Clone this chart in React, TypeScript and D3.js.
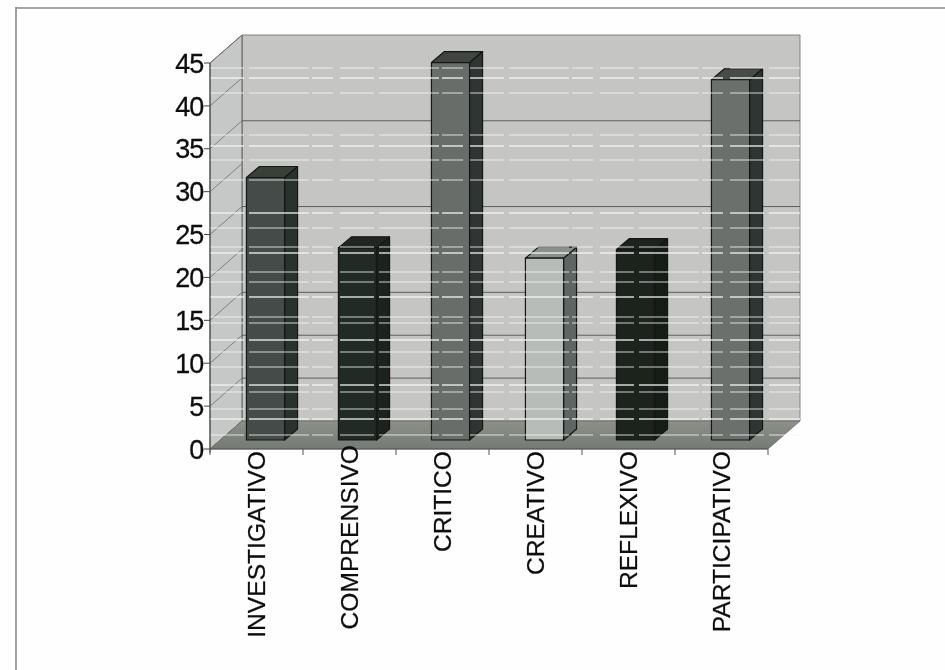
import React from "react";
import * as d3 from "d3";

const categories = ["INVESTIGATIVO", "COMPRENSIVO", "CRITICO", "CREATIVO", "REFLEXIVO", "PARTICIPATIVO"];
const values = [30.6, 22.4, 44, 21.2, 22.2, 42];
const frontColors = ["#454c48", "#232925", "#686d6a", "#b8bcb8", "#1b201c", "#6c706c"];
const sideColors = ["#2a332d", "#1c211d", "#2e3531", "#5d6662", "#181c19", "#2e3632"];
const topColors = ["#394039", "#222823", "#3f4542", "#8a8f8b", "#1c201d", "#464c48"];
const labelShift = [0, -6, 0, 0, 0, 0];
const barShift = [9, 8, 8, 9, 7, 9];
const yTicks = [0, 5, 10, 15, 20, 25, 30, 35, 40, 45];
const wallGrid = [5, 10, 15, 25, 35];
const scanStreaks = [68, 78, 93, 135, 146, 160, 180, 213, 228, 247, 253, 272, 282, 297, 317, 323, 340, 352, 367, 385, 392, 409, 419, 435];

const W = 945;
const H = 670;
const DX = 32;
const DY = -28;
const BDX = 13;
const BDY = -11;
const FONT = "'Liberation Sans', Arial, sans-serif";

const y = d3.scaleLinear().domain([0, 45]).range([449, 63]);
const x = d3.scaleBand<string>().domain(categories).range([210, 768]).paddingInner(0.59).paddingOuter(0.295);
const poly = (pts: number[][]) => pts.map((p) => p.join(",")).join(" ");

export default function App() {
  const y0 = y(0);
  const yTop = y(45);
  const xL = 210;
  const xR = 768;
  const edges = categories.map((c) => (x(c) as number) + x.bandwidth() / 2 - x.step() / 2).concat(xR);
  return (
    <svg width={W} height={H} viewBox={`0 0 ${W} ${H}`} style={{ position: "absolute", left: 0, top: 0 }}>
      <defs>
        <filter id="soft" x="-5%" y="-5%" width="110%" height="110%">
          <feGaussianBlur stdDeviation="0.6" />
        </filter>
        <linearGradient id="floorG" x1="0" y1="0" x2="0" y2="1">
          <stop offset="0" stopColor="#8d9089" />
          <stop offset="1" stopColor="#747a74" />
        </linearGradient>
      </defs>
      <rect width={W} height={H} fill="#fefefe" />
      <g filter="url(#soft)">
        <line x1={16} x2={16} y1={7} y2={H} stroke="#8a8a8a" strokeWidth={1.6} />
        <line x1={16} x2={W} y1={8} y2={8} stroke="#8a8a8a" strokeWidth={1.6} />

        {/* walls and floor */}
        <polygon points={poly([[xL + DX, yTop + DY], [xR + DX, yTop + DY], [xR + DX, y0 + DY], [xL + DX, y0 + DY]])} fill="#c5c5c4" stroke="#777" strokeWidth={0.9} />
        <polygon points={poly([[xL, yTop], [xL + DX, yTop + DY], [xL + DX, y0 + DY], [xL, y0]])} fill="#c6c8c8" stroke="#555" strokeWidth={0.9} />
        <polygon points={poly([[xL, y0], [xL + DX, y0 + DY], [xR + DX, y0 + DY], [xR, y0]])} fill="url(#floorG)" stroke="#666" strokeWidth={0.7} />

        {/* grid */}
        {wallGrid.map((v) => (
          <line key={v} x1={xL + DX} x2={xR + DX} y1={y(v) + DY} y2={y(v) + DY} stroke="#5d5f5c" strokeWidth={1} />
        ))}
        {yTicks.map((v) => (
          <line key={v} x1={xL} x2={xL + DX} y1={y(v)} y2={y(v) + DY} stroke="#777" strokeWidth={0.9} />
        ))}

        {/* bars */}
        {categories.map((c, i) => {
          const l = (x(c) as number) + barShift[i];
          const r = l + x.bandwidth();
          const t = y(values[i]) - 9;
          const b = y(0) - 9;
          return (
            <g key={c} stroke="#141714" strokeWidth={1.2} strokeLinejoin="round">
              <polygon points={poly([[r, t], [r + BDX, t + BDY], [r + BDX, b + BDY], [r, b]])} fill={sideColors[i]} />
              <polygon points={poly([[l, t], [l + BDX, t + BDY], [r + BDX, t + BDY], [r, t]])} fill={topColors[i]} />
              <rect x={l} y={t} width={r - l} height={b - t} fill={frontColors[i]} />
            </g>
          );
        })}

        {/* scan noise */}
        {scanStreaks.map((s, i) => (
          <line
            key={s}
            x1={xL}
            x2={xR + DX}
            y1={s}
            y2={s}
            stroke="#f6f6f2"
            strokeOpacity={i % 3 === 1 ? 0.85 : 0.55}
            strokeWidth={1.4}
            strokeDasharray="34 5 60 3 21 7"
          />
        ))}

        {/* axes */}
        <line x1={xL} x2={xL} y1={yTop} y2={y0 + 4} stroke="#444" strokeWidth={1} />
        <line x1={xL} x2={xR} y1={y0} y2={y0} stroke="#555" strokeWidth={1} />
        {yTicks.map((v) => (
          <line key={v} x1={xL - 6} x2={xL} y1={y(v)} y2={y(v)} stroke="#444" strokeWidth={1} />
        ))}
        {edges.map((e, i) => (
          <line key={i} x1={e} x2={e} y1={y0} y2={y0 + 6} stroke="#555" strokeWidth={1} />
        ))}
        {yTicks.map((v) => (
          <text key={v} x={xL - 7} y={y(v)} dy="0.36em" textAnchor="end" fontFamily={FONT} fontSize={27} letterSpacing={-1.2} fill="#111" stroke="#111" strokeWidth={0.3}>
            {v}
          </text>
        ))}
        {categories.map((c, i) => (
          <text
            key={c}
            transform={`translate(${(x(c) as number) + x.bandwidth() / 2},${451 + labelShift[i]}) rotate(-90)`}
            dy="0.36em"
            textAnchor="end"
            fontFamily={FONT}
            fontSize={24.6}
            fill="#111"
            stroke="#111"
            strokeWidth={0.25}
          >
            {c}
          </text>
        ))}
      </g>
    </svg>
  );
}
